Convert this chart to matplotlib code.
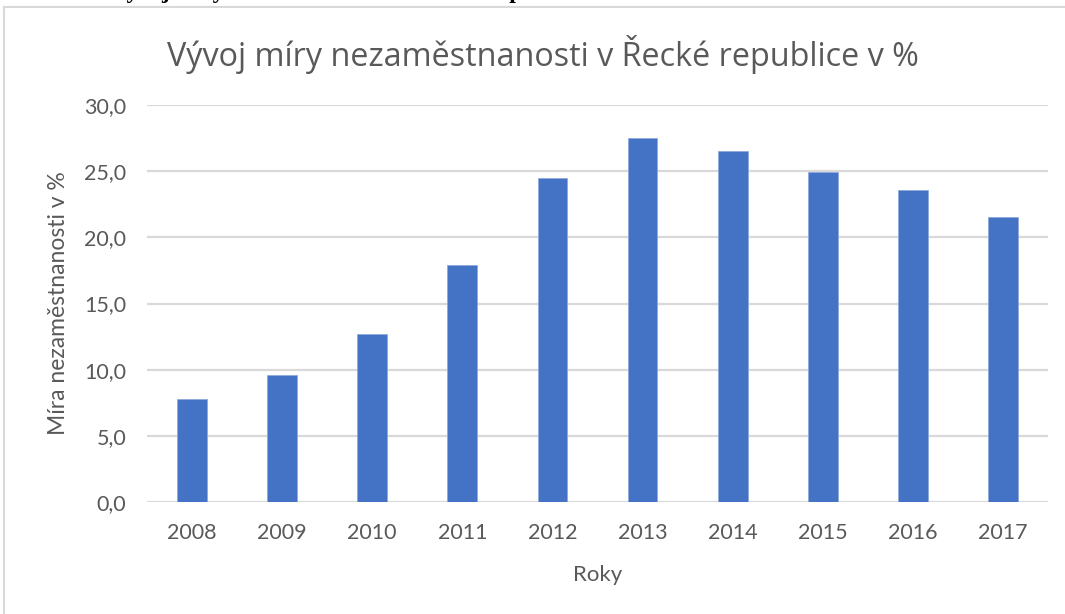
import matplotlib
matplotlib.use("Agg")
import matplotlib.pyplot as plt
from matplotlib.lines import Line2D

roky = ["2008", "2009", "2010", "2011", "2012", "2013", "2014", "2015", "2016", "2017"]
mira = [7.8, 9.6, 12.7, 17.9, 24.5, 27.5, 26.5, 24.9, 23.6, 21.5]
yticks = [0, 5, 10, 15, 20, 25, 30]

nadpis = "Vývoj míry nezaměstnanosti v Řecké republice v %"
popisek_y = "Míra nezaměstnanosti v %"
popisek_x = "Roky"
horni_text = "Graf 1: Vývoj míry nezaměstnanosti v Řecké republice"

sedy = "#595959"
modra = "#4472C4"
mrizka = "#d9d9d9"

plt.rcParams["font.family"] = ["Lato", "DejaVu Sans"]

fig = plt.figure(figsize=(10.65, 6.14), dpi=100)
W, H = 1065, 614
ax = fig.add_axes([147 / W, (H - 502) / H, (1048 - 147) / W, (502 - 105) / H])

x = range(len(roky))
ax.bar(x, mira, width=0.33, color=modra, edgecolor="#8eaadb", linewidth=0.6, zorder=3)

ax.set_xlim(-0.5, len(roky) - 0.5)
ax.set_ylim(0, 30)
ax.set_yticks(yticks)
ax.set_yticklabels([f"{v:.1f}".replace(".", ",") for v in yticks])
ax.set_xticks(list(x))
ax.set_xticklabels(roky)

ax.grid(axis="y", color=mrizka, linewidth=1.6, zorder=0)
ax.tick_params(axis="both", length=0, colors=sedy, labelsize=15.5)
ax.tick_params(axis="x", pad=15)
ax.tick_params(axis="y", pad=15)
for s in ax.spines.values():
    s.set_visible(False)

ax.set_xlabel(popisek_x, color=sedy, fontsize=16)
ax.set_ylabel(popisek_y, color=sedy, fontsize=16.5)
ax.xaxis.set_label_coords(0.5, (502 - 575) / 397)
ax.yaxis.set_label_coords((59 - 147) / 901, 0.5)
ax.yaxis.label.set_va("center")
ax.xaxis.label.set_va("center")

fig.text(543 / W, 1 - 55 / H, nadpis, ha="center", va="center", fontsize=23.3,
         color=sedy, family=["Open Sans", "DejaVu Sans"])

# oramovani grafu
fig.add_artist(Line2D([4 / W, 1], [1 - 7 / H, 1 - 7 / H], color=mrizka, linewidth=1.5))
fig.add_artist(Line2D([4 / W, 4 / W], [0, 1 - 7 / H], color=mrizka, linewidth=1.5))

# orezany popisek nad grafem
fig.text(30 / W, 1 + 2 / H, horni_text, ha="left", va="baseline", fontsize=17,
         family="Liberation Serif", fontweight="bold", color="black")

fig.savefig("out.png", dpi=100)
